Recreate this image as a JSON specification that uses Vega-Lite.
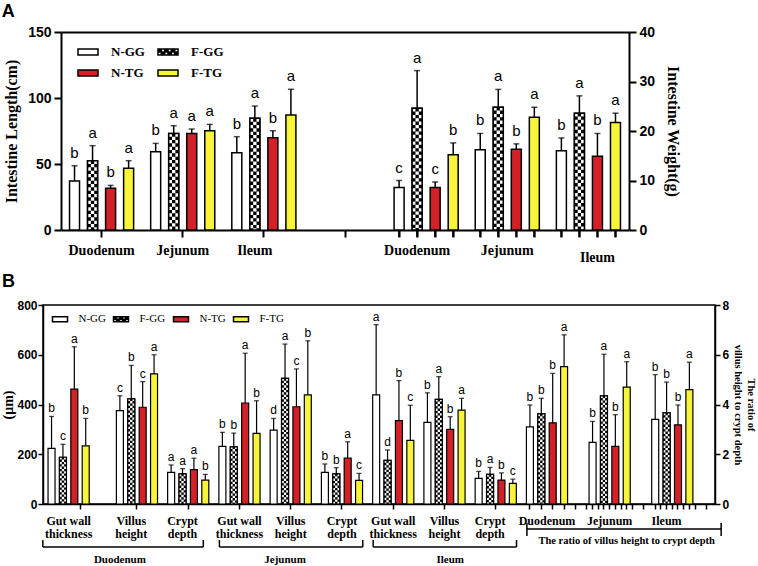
{
"$schema": "https://vega.github.io/schema/vega-lite/v6.json",
"padding": {"left": 1, "top": 3, "right": 0, "bottom": 0},
"background": "white",
"config": {
  "font": "Liberation Sans",
  "view": {"stroke": "black", "strokeWidth": 1.5},
  "axis": {"grid": false, "domainColor": "black", "tickColor": "black", "labelColor": "black", "titleColor": "black", "domainWidth": 1.5, "tickWidth": 1.5}
},
"datasets": {
  "aLen": [
    {"id": "L_D_N", "segment": "Duodenum", "grp": "N-GG", "mean": 37.1, "upper": 48.7, "sig": "b"},
    {"id": "L_D_F", "segment": "Duodenum", "grp": "F-GG", "mean": 52.5, "upper": 63.9, "sig": "a"},
    {"id": "L_D_T", "segment": "Duodenum", "grp": "N-TG", "mean": 31.6, "upper": 33.8, "sig": "b"},
    {"id": "L_D_Y", "segment": "Duodenum", "grp": "F-TG", "mean": 46.7, "upper": 52.5, "sig": "a"},
    {"id": "L_J_N", "segment": "Jejunum", "grp": "N-GG", "mean": 59.3, "upper": 65.6, "sig": "b"},
    {"id": "L_J_F", "segment": "Jejunum", "grp": "F-GG", "mean": 73.2, "upper": 79.0, "sig": "a"},
    {"id": "L_J_T", "segment": "Jejunum", "grp": "N-TG", "mean": 73.2, "upper": 76.5, "sig": "a"},
    {"id": "L_J_Y", "segment": "Jejunum", "grp": "F-TG", "mean": 75.2, "upper": 80.0, "sig": "a"},
    {"id": "L_I_N", "segment": "Ileum", "grp": "N-GG", "mean": 58.6, "upper": 70.7, "sig": "b"},
    {"id": "L_I_F", "segment": "Ileum", "grp": "F-GG", "mean": 84.6, "upper": 93.9, "sig": "a"},
    {"id": "L_I_T", "segment": "Ileum", "grp": "N-TG", "mean": 69.9, "upper": 75.2, "sig": "b"},
    {"id": "L_I_Y", "segment": "Ileum", "grp": "F-TG", "mean": 87.1, "upper": 106.6, "sig": "a"}
  ],
  "aWt": [
    {"id": "W_D_N", "segment": "Duodenum", "grp": "N-GG", "mean": 8.6, "upper": 10.0, "sig": "c"},
    {"id": "W_D_F", "segment": "Duodenum", "grp": "F-GG", "mean": 24.6, "upper": 32.2, "sig": "a"},
    {"id": "W_D_T", "segment": "Duodenum", "grp": "N-TG", "mean": 8.6, "upper": 9.7, "sig": "c"},
    {"id": "W_D_Y", "segment": "Duodenum", "grp": "F-TG", "mean": 15.2, "upper": 17.6, "sig": "b"},
    {"id": "W_J_N", "segment": "Jejunum", "grp": "N-GG", "mean": 16.2, "upper": 19.5, "sig": "b"},
    {"id": "W_J_F", "segment": "Jejunum", "grp": "F-GG", "mean": 24.8, "upper": 28.4, "sig": "a"},
    {"id": "W_J_T", "segment": "Jejunum", "grp": "N-TG", "mean": 16.3, "upper": 17.4, "sig": "b"},
    {"id": "W_J_Y", "segment": "Jejunum", "grp": "F-TG", "mean": 22.8, "upper": 24.8, "sig": "a"},
    {"id": "W_I_N", "segment": "Ileum", "grp": "N-GG", "mean": 16.0, "upper": 18.6, "sig": "b"},
    {"id": "W_I_F", "segment": "Ileum", "grp": "F-GG", "mean": 23.6, "upper": 27.1, "sig": "a"},
    {"id": "W_I_T", "segment": "Ileum", "grp": "N-TG", "mean": 14.9, "upper": 19.5, "sig": "b"},
    {"id": "W_I_Y", "segment": "Ileum", "grp": "F-TG", "mean": 21.7, "upper": 23.6, "sig": "a"}
  ],
  "bUm": [
    {"id": "D_GWT_N", "tissue": "Duodenum", "measure": "Gut wall thickness", "grp": "N-GG", "mean": 224, "upper": 352, "sig": "b"},
    {"id": "D_GWT_F", "tissue": "Duodenum", "measure": "Gut wall thickness", "grp": "F-GG", "mean": 188, "upper": 240, "sig": "c"},
    {"id": "D_GWT_T", "tissue": "Duodenum", "measure": "Gut wall thickness", "grp": "N-TG", "mean": 462, "upper": 632, "sig": "a"},
    {"id": "D_GWT_Y", "tissue": "Duodenum", "measure": "Gut wall thickness", "grp": "F-TG", "mean": 234, "upper": 344, "sig": "b"},
    {"id": "D_VH_N", "tissue": "Duodenum", "measure": "Villus height", "grp": "N-GG", "mean": 375, "upper": 435, "sig": "c"},
    {"id": "D_VH_F", "tissue": "Duodenum", "measure": "Villus height", "grp": "F-GG", "mean": 423, "upper": 557, "sig": "b"},
    {"id": "D_VH_T", "tissue": "Duodenum", "measure": "Villus height", "grp": "N-TG", "mean": 389, "upper": 492, "sig": "c"},
    {"id": "D_VH_Y", "tissue": "Duodenum", "measure": "Villus height", "grp": "F-TG", "mean": 523, "upper": 600, "sig": "a"},
    {"id": "D_CD_N", "tissue": "Duodenum", "measure": "Crypt depth", "grp": "N-GG", "mean": 127, "upper": 157, "sig": "a"},
    {"id": "D_CD_F", "tissue": "Duodenum", "measure": "Crypt depth", "grp": "F-GG", "mean": 121, "upper": 142, "sig": "a"},
    {"id": "D_CD_T", "tissue": "Duodenum", "measure": "Crypt depth", "grp": "N-TG", "mean": 138, "upper": 184, "sig": "a"},
    {"id": "D_CD_Y", "tissue": "Duodenum", "measure": "Crypt depth", "grp": "F-TG", "mean": 96, "upper": 119, "sig": "b"},
    {"id": "J_GWT_N", "tissue": "Jejunum", "measure": "Gut wall thickness", "grp": "N-GG", "mean": 232, "upper": 288, "sig": "b"},
    {"id": "J_GWT_F", "tissue": "Jejunum", "measure": "Gut wall thickness", "grp": "F-GG", "mean": 230, "upper": 285, "sig": "b"},
    {"id": "J_GWT_T", "tissue": "Jejunum", "measure": "Gut wall thickness", "grp": "N-TG", "mean": 406, "upper": 606, "sig": "a"},
    {"id": "J_GWT_Y", "tissue": "Jejunum", "measure": "Gut wall thickness", "grp": "F-TG", "mean": 284, "upper": 415, "sig": "b"},
    {"id": "J_VH_N", "tissue": "Jejunum", "measure": "Villus height", "grp": "N-GG", "mean": 297, "upper": 344, "sig": "d"},
    {"id": "J_VH_F", "tissue": "Jejunum", "measure": "Villus height", "grp": "F-GG", "mean": 505, "upper": 643, "sig": "a"},
    {"id": "J_VH_T", "tissue": "Jejunum", "measure": "Villus height", "grp": "N-TG", "mean": 391, "upper": 543, "sig": "c"},
    {"id": "J_VH_Y", "tissue": "Jejunum", "measure": "Villus height", "grp": "F-TG", "mean": 439, "upper": 656, "sig": "b"},
    {"id": "J_CD_N", "tissue": "Jejunum", "measure": "Crypt depth", "grp": "N-GG", "mean": 127, "upper": 161, "sig": "b"},
    {"id": "J_CD_F", "tissue": "Jejunum", "measure": "Crypt depth", "grp": "F-GG", "mean": 121, "upper": 146, "sig": "b"},
    {"id": "J_CD_T", "tissue": "Jejunum", "measure": "Crypt depth", "grp": "N-TG", "mean": 185, "upper": 250, "sig": "a"},
    {"id": "J_CD_Y", "tissue": "Jejunum", "measure": "Crypt depth", "grp": "F-TG", "mean": 95, "upper": 123, "sig": "c"},
    {"id": "I_GWT_N", "tissue": "Ileum", "measure": "Gut wall thickness", "grp": "N-GG", "mean": 439, "upper": 721, "sig": "a"},
    {"id": "I_GWT_F", "tissue": "Ileum", "measure": "Gut wall thickness", "grp": "F-GG", "mean": 175, "upper": 217, "sig": "d"},
    {"id": "I_GWT_T", "tissue": "Ileum", "measure": "Gut wall thickness", "grp": "N-TG", "mean": 335, "upper": 496, "sig": "b"},
    {"id": "I_GWT_Y", "tissue": "Ileum", "measure": "Gut wall thickness", "grp": "F-TG", "mean": 256, "upper": 397, "sig": "c"},
    {"id": "I_VH_N", "tissue": "Ileum", "measure": "Villus height", "grp": "N-GG", "mean": 328, "upper": 447, "sig": "b"},
    {"id": "I_VH_F", "tissue": "Ileum", "measure": "Villus height", "grp": "F-GG", "mean": 421, "upper": 512, "sig": "a"},
    {"id": "I_VH_T", "tissue": "Ileum", "measure": "Villus height", "grp": "N-TG", "mean": 300, "upper": 351, "sig": "b"},
    {"id": "I_VH_Y", "tissue": "Ileum", "measure": "Villus height", "grp": "F-TG", "mean": 377, "upper": 425, "sig": "a"},
    {"id": "I_CD_N", "tissue": "Ileum", "measure": "Crypt depth", "grp": "N-GG", "mean": 103, "upper": 131, "sig": "b"},
    {"id": "I_CD_F", "tissue": "Ileum", "measure": "Crypt depth", "grp": "F-GG", "mean": 119, "upper": 147, "sig": "a"},
    {"id": "I_CD_T", "tissue": "Ileum", "measure": "Crypt depth", "grp": "N-TG", "mean": 96, "upper": 125, "sig": "b"},
    {"id": "I_CD_Y", "tissue": "Ileum", "measure": "Crypt depth", "grp": "F-TG", "mean": 83, "upper": 100, "sig": "c"}
  ],
  "bRatio": [
    {"id": "R_D_N", "tissue": "Duodenum", "grp": "N-GG", "mean": 3.1, "upper": 3.98, "sig": "b"},
    {"id": "R_D_F", "tissue": "Duodenum", "grp": "F-GG", "mean": 3.62, "upper": 4.25, "sig": "b"},
    {"id": "R_D_T", "tissue": "Duodenum", "grp": "N-TG", "mean": 3.26, "upper": 5.25, "sig": "b"},
    {"id": "R_D_Y", "tissue": "Duodenum", "grp": "F-TG", "mean": 5.52, "upper": 6.8, "sig": "a"},
    {"id": "R_J_N", "tissue": "Jejunum", "grp": "N-GG", "mean": 2.48, "upper": 3.32, "sig": "b"},
    {"id": "R_J_F", "tissue": "Jejunum", "grp": "F-GG", "mean": 4.35, "upper": 6.02, "sig": "a"},
    {"id": "R_J_T", "tissue": "Jejunum", "grp": "N-TG", "mean": 2.32, "upper": 3.59, "sig": "b"},
    {"id": "R_J_Y", "tissue": "Jejunum", "grp": "F-TG", "mean": 4.7, "upper": 5.72, "sig": "a"},
    {"id": "R_I_N", "tissue": "Ileum", "grp": "N-GG", "mean": 3.4, "upper": 5.2, "sig": "b"},
    {"id": "R_I_F", "tissue": "Ileum", "grp": "F-GG", "mean": 3.66, "upper": 4.9, "sig": "b"},
    {"id": "R_I_T", "tissue": "Ileum", "grp": "N-TG", "mean": 3.18, "upper": 3.98, "sig": "b"},
    {"id": "R_I_Y", "tissue": "Ileum", "grp": "F-TG", "mean": 4.6, "upper": 5.7, "sig": "a"}
  ],
  "brackets": [
    {"tissue": "Duodenum", "start": "b0", "end": "D_CD_Y", "mid": "D_VH_N"},
    {"tissue": "Jejunum", "start": "J_GWT_N", "end": "b56", "mid": "J_VH_F"},
    {"tissue": "Ileum", "start": "I_GWT_N", "end": "b83", "mid": "I_VH_T"}
  ],
  "ratioBracket": [
    {"label": "The ratio of villus height to crypt depth", "start": "R_D_N", "end": "b117", "mid": "R_J_Y"}
  ]
},
"vconcat": [
  {
    "width": 586,
    "height": 198,
    "title": {"text": "A", "anchor": "start", "frame": "bounds", "font": "Liberation Sans", "fontSize": 18, "fontWeight": "bold", "offset": 4, "dx": -2, "color": "black"},
    "view": {"stroke": null},
    "encoding": {
      "x": {
        "field": "id", "type": "nominal",
        "scale": {"paddingInner": 0, "paddingOuter": 0, "rangeMin": 18, "domain": ["a0","L_D_N","a2","L_D_F","a4","L_D_T","a6","L_D_Y","a8","a9","L_J_N","a11","L_J_F","a13","L_J_T","a15","L_J_Y","a17","a18","L_I_N","a20","L_I_F","a22","L_I_T","a24","L_I_Y","a26","a27","a28","a29","a30","a31","a32","a33","a34","a35","a36","W_D_N","a38","W_D_F","a40","W_D_T","a42","W_D_Y","a44","a45","W_J_N","a47","W_J_F","a49","W_J_T","a51","W_J_Y","a53","a54","W_I_N","a56","W_I_F","a58","W_I_T","a60","W_I_Y","a62"]},
        "axis": {
          "title": null, "labelAngle": 0, "labelOverlap": false,
          "labelFont": "Liberation Serif", "labelFontWeight": "bold", "labelFontSize": 14,
          "labelPadding": {"condition": {"test": "datum.value == 'W_I_T'", "value": 13}, "value": 6},
          "tickSize": 7, "tickWidth": 2, "domainWidth": 2,
          "tickOpacity": {"condition": {"test": "indexof(['a4','a13','a22','a31'], datum.value) >= 0 || indexof(datum.value, 'W_') == 0", "value": 1}, "value": 0},
          "labelExpr": "datum.value == 'a4' ? 'Duodenum' : datum.value == 'a13' ? 'Jejunum' : datum.value == 'L_I_F' ? 'Ileum' : datum.value == 'W_D_F' ? 'Duodenum' : datum.value == 'a49' ? 'Jejunum' : datum.value == 'W_I_T' ? 'Ileum' : ''"
        }
      }
    },
    "resolve": {"scale": {"y": "independent"}, "axis": {"x": "independent"}},
    "layer": [
      {
        "data": {"name": "aLen"},
        "layer": [
          {"mark": {"type": "bar", "width": 10, "stroke": "black", "strokeWidth": 1.5},
           "encoding": {
             "y": {"field": "mean", "type": "quantitative", "scale": {"domain": [0, 150], "nice": false},
                   "axis": {"title": "Intestine Length(cm)", "offset": -18, "values": [0, 50, 100, 150], "labelFont": "Liberation Sans", "labelFontWeight": "bold", "labelFontSize": 14, "titleFont": "Liberation Serif", "titleFontSize": 16, "titleFontWeight": "bold", "tickSize": 7, "tickWidth": 2, "domainWidth": 2, "labelPadding": 3, "titlePadding": 8}},
             "fill": {"field": "grp", "type": "nominal",
                      "scale": {"domain": ["N-GG", "F-GG", "N-TG", "F-TG"], "range": ["#ffffff", "#000000", "#d42027", "#f7f43a"]},
                      "legend": {"title": null, "orient": "none", "legendX": 38, "legendY": 13, "columns": 2, "direction": "horizontal", "symbolSize": 144, "labelFont": "Liberation Serif", "labelFontWeight": "bold", "labelFontSize": 13, "labelColor": "black", "labelOffset": 16, "columnPadding": 9, "rowPadding": 7, "padding": 0,
                        "encode": {"symbols": {"update": {"stroke": {"value": "black"}, "strokeWidth": {"value": 1.2}, "opacity": {"value": 1}}}}}}
           }},
          {"transform": [{"filter": "false"}], "mark": {"type": "point", "filled": true},
           "encoding": {
             "y": {"field": "mean", "type": "quantitative"},
             "fill": {"field": "grp", "type": "nominal",
                      "scale": {"domain": ["N-GG", "F-GG", "N-TG", "F-TG"], "range": ["#ffffff", "#000000", "#d42027", "#f7f43a"]},
                      "legend": {"title": null, "orient": "none", "legendX": 38, "legendY": 13, "columns": 2, "direction": "horizontal", "symbolSize": 144, "labelFont": "Liberation Serif", "labelFontWeight": "bold", "labelFontSize": 13, "labelColor": "black", "labelOffset": 16, "columnPadding": 9, "rowPadding": 7, "padding": 0,
                        "encode": {"symbols": {"update": {"stroke": {"value": "black"}, "strokeWidth": {"value": 1.2}, "opacity": {"value": 1}}}}}},
             "shape": {"field": "grp", "type": "nominal",
                      "scale": {"domain": ["N-GG", "F-GG", "N-TG", "F-TG"], "range": ["M-1.667,-0.5H1.667V0.5H-1.667Z", "M-1.667,-0.5H1.667V0.5H-1.667Z M-1.111,-0.5V0H-0.556V-0.5Z M0,-0.5V0H0.556V-0.5Z M1.111,-0.5V0H1.667V-0.5Z M-1.667,0V0.5H-1.111V0Z M-0.556,0V0.5H0V0Z M0.556,0V0.5H1.111V0Z", "M-1.667,-0.5H1.667V0.5H-1.667Z", "M-1.667,-0.5H1.667V0.5H-1.667Z"]},
                      "legend": {"title": null, "orient": "none", "legendX": 38, "legendY": 13, "columns": 2, "direction": "horizontal", "symbolSize": 144, "labelFont": "Liberation Serif", "labelFontWeight": "bold", "labelFontSize": 13, "labelColor": "black", "labelOffset": 16, "columnPadding": 9, "rowPadding": 7, "padding": 0,
                        "encode": {"symbols": {"update": {"stroke": {"value": "black"}, "strokeWidth": {"value": 1.2}, "opacity": {"value": 1}}}}}}
           }},
          {"transform": [{"filter": "datum.grp == 'F-GG'"}], "mark": {"type": "rule", "color": "white", "strokeWidth": 3.33, "strokeDash": [3.33, 3.33], "xOffset": -3.33}, "encoding": {"y": {"field": "mean", "type": "quantitative"}, "y2": {"datum": 0}}},
          {"transform": [{"filter": "datum.grp == 'F-GG'"}], "mark": {"type": "rule", "color": "white", "strokeWidth": 3.33, "strokeDash": [3.33, 3.33], "strokeDashOffset": 3.33}, "encoding": {"y": {"field": "mean", "type": "quantitative"}, "y2": {"datum": 0}}},
          {"transform": [{"filter": "datum.grp == 'F-GG'"}], "mark": {"type": "rule", "color": "white", "strokeWidth": 3.33, "strokeDash": [3.33, 3.33], "xOffset": 3.33}, "encoding": {"y": {"field": "mean", "type": "quantitative"}, "y2": {"datum": 0}}},
          {"transform": [{"filter": "datum.grp == 'F-GG'"}], "mark": {"type": "bar", "width": 10, "fillOpacity": 0, "stroke": "black", "strokeWidth": 1.5}, "encoding": {"y": {"field": "mean", "type": "quantitative"}}},
          {"mark": {"type": "rule", "color": "black", "strokeWidth": 1.5}, "encoding": {"y": {"field": "mean", "type": "quantitative"}, "y2": {"field": "upper"}}},
          {"mark": {"type": "tick", "color": "black", "size": 6, "thickness": 1.5}, "encoding": {"y": {"field": "upper", "type": "quantitative"}}},
          {"mark": {"type": "text", "font": "Liberation Sans", "fontSize": 15, "baseline": "alphabetic", "dy": -8, "color": "#000000", "fill": "#000000"}, "encoding": {"y": {"field": "upper", "type": "quantitative"}, "text": {"field": "sig"}}}
        ]
      },
      {
        "data": {"name": "aWt"},
        "encoding": {"x": {"field": "id", "type": "nominal", "axis": {"orient": "top", "labels": false, "ticks": false, "title": null, "domainWidth": 2}}},
        "layer": [
          {"mark": {"type": "bar", "width": 10, "stroke": "black", "strokeWidth": 1.5},
           "encoding": {
             "y": {"field": "mean", "type": "quantitative", "scale": {"domain": [0, 40], "nice": false},
                   "axis": {"orient": "right", "title": "Intestine Weight(g)", "titleAngle": 90, "values": [0, 10, 20, 30, 40], "labelFont": "Liberation Sans", "labelFontWeight": "bold", "labelFontSize": 14, "titleFont": "Liberation Serif", "titleFontSize": 16, "titleFontWeight": "bold", "tickSize": 7, "tickWidth": 2, "domainWidth": 2, "labelPadding": 3, "titlePadding": 10}},
             "fill": {"field": "grp", "type": "nominal", "scale": {"domain": ["N-GG", "F-GG", "N-TG", "F-TG"], "range": ["#ffffff", "#000000", "#d42027", "#f7f43a"]}, "legend": null}
           }},
          {"transform": [{"filter": "datum.grp == 'F-GG'"}], "mark": {"type": "rule", "color": "white", "strokeWidth": 3.33, "strokeDash": [3.33, 3.33], "xOffset": -3.33}, "encoding": {"y": {"field": "mean", "type": "quantitative"}, "y2": {"datum": 0}}},
          {"transform": [{"filter": "datum.grp == 'F-GG'"}], "mark": {"type": "rule", "color": "white", "strokeWidth": 3.33, "strokeDash": [3.33, 3.33], "strokeDashOffset": 3.33}, "encoding": {"y": {"field": "mean", "type": "quantitative"}, "y2": {"datum": 0}}},
          {"transform": [{"filter": "datum.grp == 'F-GG'"}], "mark": {"type": "rule", "color": "white", "strokeWidth": 3.33, "strokeDash": [3.33, 3.33], "xOffset": 3.33}, "encoding": {"y": {"field": "mean", "type": "quantitative"}, "y2": {"datum": 0}}},
          {"transform": [{"filter": "datum.grp == 'F-GG'"}], "mark": {"type": "bar", "width": 10, "fillOpacity": 0, "stroke": "black", "strokeWidth": 1.5}, "encoding": {"y": {"field": "mean", "type": "quantitative"}}},
          {"mark": {"type": "rule", "color": "black", "strokeWidth": 1.5}, "encoding": {"y": {"field": "mean", "type": "quantitative"}, "y2": {"field": "upper"}}},
          {"mark": {"type": "tick", "color": "black", "size": 6, "thickness": 1.5}, "encoding": {"y": {"field": "upper", "type": "quantitative"}}},
          {"mark": {"type": "text", "font": "Liberation Sans", "fontSize": 15, "baseline": "alphabetic", "dy": -8, "color": "#000000", "fill": "#000000"}, "encoding": {"y": {"field": "upper", "type": "quantitative"}, "text": {"field": "sig"}}},
          {"mark": {"type": "rule", "color": "black", "strokeWidth": 2, "y2Offset": 7}, "encoding": {"y": {"datum": 0}, "y2": {"datum": 0}}}
        ]
      }
    ]
  },
  {
    "width": 672,
    "height": 199,
    "title": {"text": "B", "anchor": "start", "frame": "bounds", "font": "Liberation Sans", "fontSize": 18, "fontWeight": "bold", "offset": 8, "dx": 0, "color": "black"},
    "encoding": {
      "x": {
        "field": "id", "type": "nominal",
        "scale": {"paddingInner": 0, "paddingOuter": 0, "domain": ["b0","D_GWT_N","b2","D_GWT_F","b4","D_GWT_T","b6","D_GWT_Y","b8","b9","b10","b11","b12","D_VH_N","b14","D_VH_F","b16","D_VH_T","b18","D_VH_Y","b20","b21","D_CD_N","b23","D_CD_F","b25","D_CD_T","b27","D_CD_Y","b29","b30","J_GWT_N","b32","J_GWT_F","b34","J_GWT_T","b36","J_GWT_Y","b38","b39","J_VH_N","b41","J_VH_F","b43","J_VH_T","b45","J_VH_Y","b47","b48","J_CD_N","b50","J_CD_F","b52","J_CD_T","b54","J_CD_Y","b56","b57","I_GWT_N","b59","I_GWT_F","b61","I_GWT_T","b63","I_GWT_Y","b65","b66","I_VH_N","b68","I_VH_F","b70","I_VH_T","b72","I_VH_Y","b74","b75","I_CD_N","b77","I_CD_F","b79","I_CD_T","b81","I_CD_Y","b83","b84","R_D_N","b86","R_D_F","b88","R_D_T","b90","R_D_Y","b92","b93","b94","b95","R_J_N","b97","R_J_F","b99","R_J_T","b101","R_J_Y","b103","b104","b105","b106","R_I_N","b108","R_I_F","b110","R_I_T","b112","R_I_Y","b114","b115","b116","b117"]},
        "axis": {
          "title": null, "labelAngle": 0, "labelOverlap": false,
          "labelFont": "Liberation Serif", "labelFontWeight": "bold", "labelFontSize": 12, "labelLineHeight": 13, "labelPadding": 6,
          "tickSize": 5, "tickWidth": 1.5,
          "tickOpacity": {"condition": {"test": "indexof(['b6','b16','b25','b34','b43','b52','b61','b70','b79','R_D_N','R_D_F','R_D_T','R_D_Y','b93','b95','R_J_N','b97','R_J_F','b99','R_J_T','b101','R_J_Y','b103','b105','R_I_N','b108','R_I_F','b110','R_I_T','b112','R_I_Y','b114','b116'], datum.value) >= 0", "value": 1}, "value": 0},
          "labelExpr": "datum.value == 'b4' ? ['Gut wall', 'thickness'] : datum.value == 'D_VH_F' ? ['Villus', 'height'] : datum.value == 'D_CD_F' ? ['Crypt', 'depth'] : datum.value == 'b34' ? ['Gut wall', 'thickness'] : datum.value == 'b43' ? ['Villus', 'height'] : datum.value == 'b52' ? ['Crypt', 'depth'] : datum.value == 'b61' ? ['Gut wall', 'thickness'] : datum.value == 'b70' ? ['Villus', 'height'] : datum.value == 'I_CD_F' ? ['Crypt', 'depth'] : datum.value == 'b88' ? 'Duodenum' : datum.value == 'b99' ? 'Jejunum' : datum.value == 'R_I_F' ? 'Ileum' : ''"
        }
      }
    },
    "resolve": {"scale": {"y": "independent"}},
    "layer": [
      {
        "layer": [
          {"data": {"name": "bUm"}, "mark": {"type": "bar", "width": 7, "stroke": "black", "strokeWidth": 1.2},
           "encoding": {
             "y": {"field": "mean", "type": "quantitative", "scale": {"domain": [0, 800], "nice": false},
                   "axis": {"title": "(μm)", "values": [0, 200, 400, 600, 800], "labelFont": "Liberation Sans", "labelFontWeight": "bold", "labelFontSize": 12, "titleFont": "Liberation Serif", "titleFontSize": 14, "titleFontWeight": "bold", "tickSize": 5, "labelPadding": 1, "titlePadding": 1}},
             "fill": {"field": "grp", "type": "nominal",
                      "scale": {"domain": ["N-GG", "F-GG", "N-TG", "F-TG"], "range": ["#ffffff", "#000000", "#d42027", "#f7f43a"]},
                      "legend": {"title": null, "orient": "none", "legendX": 11, "legendY": 8, "columns": 4, "direction": "horizontal", "symbolSize": 100, "labelFont": "Liberation Serif", "labelFontSize": 11, "labelColor": "black", "labelOffset": 12.5, "columnPadding": 4, "padding": 0,
                        "encode": {"symbols": {"update": {"stroke": {"value": "black"}, "strokeWidth": {"value": 1}, "opacity": {"value": 1}}}}}}
           }},
          {"data": {"name": "bUm"}, "transform": [{"filter": "false"}], "mark": {"type": "point", "filled": true},
           "encoding": {
             "y": {"field": "mean", "type": "quantitative"},
             "fill": {"field": "grp", "type": "nominal",
                      "scale": {"domain": ["N-GG", "F-GG", "N-TG", "F-TG"], "range": ["#ffffff", "#000000", "#d42027", "#f7f43a"]},
                      "legend": {"title": null, "orient": "none", "legendX": 11, "legendY": 8, "columns": 4, "direction": "horizontal", "symbolSize": 100, "labelFont": "Liberation Serif", "labelFontSize": 11, "labelColor": "black", "labelOffset": 12.5, "columnPadding": 4, "padding": 0,
                        "encode": {"symbols": {"update": {"stroke": {"value": "black"}, "strokeWidth": {"value": 1}, "opacity": {"value": 1}}}}}},
             "shape": {"field": "grp", "type": "nominal",
                      "scale": {"domain": ["N-GG", "F-GG", "N-TG", "F-TG"], "range": ["M-1.5,-0.5H1.5V0.5H-1.5Z", "M-1.5,-0.5H1.5V0.5H-1.5Z M-0.9,-0.5V0H-0.3V-0.5Z M0.3,-0.5V0H0.9V-0.5Z M-1.5,0V0.5H-0.9V0Z M-0.3,0V0.5H0.3V0Z M0.9,0V0.5H1.5V0Z", "M-1.5,-0.5H1.5V0.5H-1.5Z", "M-1.5,-0.5H1.5V0.5H-1.5Z"]},
                      "legend": {"title": null, "orient": "none", "legendX": 11, "legendY": 8, "columns": 4, "direction": "horizontal", "symbolSize": 100, "labelFont": "Liberation Serif", "labelFontSize": 11, "labelColor": "black", "labelOffset": 12.5, "columnPadding": 4, "padding": 0,
                        "encode": {"symbols": {"update": {"stroke": {"value": "black"}, "strokeWidth": {"value": 1}, "opacity": {"value": 1}}}}}}
           }},
          {"data": {"name": "bUm"}, "transform": [{"filter": "datum.grp == 'F-GG'"}], "mark": {"type": "rule", "color": "white", "strokeWidth": 2.33, "strokeDash": [2.33, 2.33], "xOffset": -2.33}, "encoding": {"y": {"field": "mean", "type": "quantitative"}, "y2": {"datum": 0}}},
          {"data": {"name": "bUm"}, "transform": [{"filter": "datum.grp == 'F-GG'"}], "mark": {"type": "rule", "color": "white", "strokeWidth": 2.33, "strokeDash": [2.33, 2.33], "strokeDashOffset": 2.33}, "encoding": {"y": {"field": "mean", "type": "quantitative"}, "y2": {"datum": 0}}},
          {"data": {"name": "bUm"}, "transform": [{"filter": "datum.grp == 'F-GG'"}], "mark": {"type": "rule", "color": "white", "strokeWidth": 2.33, "strokeDash": [2.33, 2.33], "xOffset": 2.33}, "encoding": {"y": {"field": "mean", "type": "quantitative"}, "y2": {"datum": 0}}},
          {"data": {"name": "bUm"}, "transform": [{"filter": "datum.grp == 'F-GG'"}], "mark": {"type": "bar", "width": 7, "fillOpacity": 0, "stroke": "black", "strokeWidth": 1.2}, "encoding": {"y": {"field": "mean", "type": "quantitative"}}},
          {"data": {"name": "bUm"}, "mark": {"type": "rule", "color": "black", "strokeWidth": 1.2}, "encoding": {"y": {"field": "mean", "type": "quantitative"}, "y2": {"field": "upper"}}},
          {"data": {"name": "bUm"}, "mark": {"type": "tick", "color": "black", "size": 5, "thickness": 1.3}, "encoding": {"y": {"field": "upper", "type": "quantitative"}}},
          {"data": {"name": "bUm"}, "mark": {"type": "text", "font": "Liberation Sans", "fontSize": 12, "baseline": "alphabetic", "dy": -4, "color": "#000000", "fill": "#000000"}, "encoding": {"y": {"field": "upper", "type": "quantitative"}, "text": {"field": "sig"}}},
          {"data": {"name": "brackets"}, "mark": {"type": "rule", "color": "black", "strokeWidth": 1.5, "xOffset": -3, "x2Offset": -2, "yOffset": 43}, "encoding": {"x": {"field": "start", "type": "nominal", "axis": {"title": null}}, "x2": {"field": "end"}, "y": {"datum": 0, "axis": {"title": "(μm)"}}}},
          {"data": {"name": "brackets"}, "mark": {"type": "rule", "color": "black", "strokeWidth": 1.5, "xOffset": -3, "yOffset": 36, "y2Offset": 43}, "encoding": {"x": {"field": "start", "type": "nominal", "axis": {"title": null}}, "y": {"datum": 0, "axis": {"title": "(μm)"}}, "y2": {"datum": 0}}},
          {"data": {"name": "brackets"}, "mark": {"type": "rule", "color": "black", "strokeWidth": 1.5, "xOffset": -2, "yOffset": 36, "y2Offset": 43}, "encoding": {"x": {"field": "end", "type": "nominal", "axis": {"title": null}}, "y": {"datum": 0, "axis": {"title": "(μm)"}}, "y2": {"datum": 0}}},
          {"data": {"name": "brackets"}, "mark": {"type": "text", "font": "Liberation Serif", "fontWeight": "bold", "fontSize": 11, "baseline": "middle", "yOffset": 56, "color": "#000000", "fill": "#000000"}, "encoding": {"x": {"field": "mid", "type": "nominal", "axis": {"title": null}}, "y": {"datum": 0, "axis": {"title": "(μm)"}}, "text": {"field": "tissue"}}},
          {"data": {"name": "ratioBracket"}, "mark": {"type": "rule", "color": "black", "strokeWidth": 1.5, "xOffset": -3, "x2Offset": 9, "yOffset": 25}, "encoding": {"x": {"field": "start", "type": "nominal", "axis": {"title": null}}, "x2": {"field": "end"}, "y": {"datum": 0, "axis": {"title": "(μm)"}}}},
          {"data": {"name": "ratioBracket"}, "mark": {"type": "rule", "color": "black", "strokeWidth": 1.5, "xOffset": -3, "yOffset": 19, "y2Offset": 32}, "encoding": {"x": {"field": "start", "type": "nominal", "axis": {"title": null}}, "y": {"datum": 0, "axis": {"title": "(μm)"}}, "y2": {"datum": 0}}},
          {"data": {"name": "ratioBracket"}, "mark": {"type": "rule", "color": "black", "strokeWidth": 1.5, "xOffset": 9, "yOffset": 19, "y2Offset": 32}, "encoding": {"x": {"field": "end", "type": "nominal", "axis": {"title": null}}, "y": {"datum": 0, "axis": {"title": "(μm)"}}, "y2": {"datum": 0}}},
          {"data": {"name": "ratioBracket"}, "mark": {"type": "text", "font": "Liberation Serif", "fontWeight": "bold", "fontSize": 10.5, "baseline": "middle", "yOffset": 37, "color": "#000000", "fill": "#000000"}, "encoding": {"x": {"field": "mid", "type": "nominal", "axis": {"title": null}}, "y": {"datum": 0, "axis": {"title": "(μm)"}}, "text": {"field": "label"}}}
        ]
      },
      {
        "data": {"name": "bRatio"},
        "layer": [
          {"mark": {"type": "bar", "width": 7, "stroke": "black", "strokeWidth": 1.2},
           "encoding": {
             "y": {"field": "mean", "type": "quantitative", "scale": {"domain": [0, 8], "nice": false},
                   "axis": {"orient": "right", "title": ["The ratio of", "villus height to crypt depth"], "titleAngle": 90, "values": [0, 2, 4, 6, 8], "labelFont": "Liberation Sans", "labelFontWeight": "bold", "labelFontSize": 12, "titleFont": "Liberation Serif", "titleFontSize": 10.5, "titleFontWeight": "bold", "titleLineHeight": 13, "tickSize": 5, "labelPadding": 2, "titlePadding": 4}},
             "fill": {"field": "grp", "type": "nominal", "scale": {"domain": ["N-GG", "F-GG", "N-TG", "F-TG"], "range": ["#ffffff", "#000000", "#d42027", "#f7f43a"]}, "legend": null}
           }},
          {"transform": [{"filter": "datum.grp == 'F-GG'"}], "mark": {"type": "rule", "color": "white", "strokeWidth": 2.33, "strokeDash": [2.33, 2.33], "xOffset": -2.33}, "encoding": {"y": {"field": "mean", "type": "quantitative"}, "y2": {"datum": 0}}},
          {"transform": [{"filter": "datum.grp == 'F-GG'"}], "mark": {"type": "rule", "color": "white", "strokeWidth": 2.33, "strokeDash": [2.33, 2.33], "strokeDashOffset": 2.33}, "encoding": {"y": {"field": "mean", "type": "quantitative"}, "y2": {"datum": 0}}},
          {"transform": [{"filter": "datum.grp == 'F-GG'"}], "mark": {"type": "rule", "color": "white", "strokeWidth": 2.33, "strokeDash": [2.33, 2.33], "xOffset": 2.33}, "encoding": {"y": {"field": "mean", "type": "quantitative"}, "y2": {"datum": 0}}},
          {"transform": [{"filter": "datum.grp == 'F-GG'"}], "mark": {"type": "bar", "width": 7, "fillOpacity": 0, "stroke": "black", "strokeWidth": 1.2}, "encoding": {"y": {"field": "mean", "type": "quantitative"}}},
          {"mark": {"type": "rule", "color": "black", "strokeWidth": 1.2}, "encoding": {"y": {"field": "mean", "type": "quantitative"}, "y2": {"field": "upper"}}},
          {"mark": {"type": "tick", "color": "black", "size": 5, "thickness": 1.3}, "encoding": {"y": {"field": "upper", "type": "quantitative"}}},
          {"mark": {"type": "text", "font": "Liberation Sans", "fontSize": 12, "baseline": "alphabetic", "dy": -4, "color": "#000000", "fill": "#000000"}, "encoding": {"y": {"field": "upper", "type": "quantitative"}, "text": {"field": "sig"}}}
        ]
      }
    ]
  }
],
"spacing": 8,
"resolve": {"scale": {"fill": "independent", "shape": "independent"}, "legend": {"fill": "independent", "shape": "independent"}}
}
